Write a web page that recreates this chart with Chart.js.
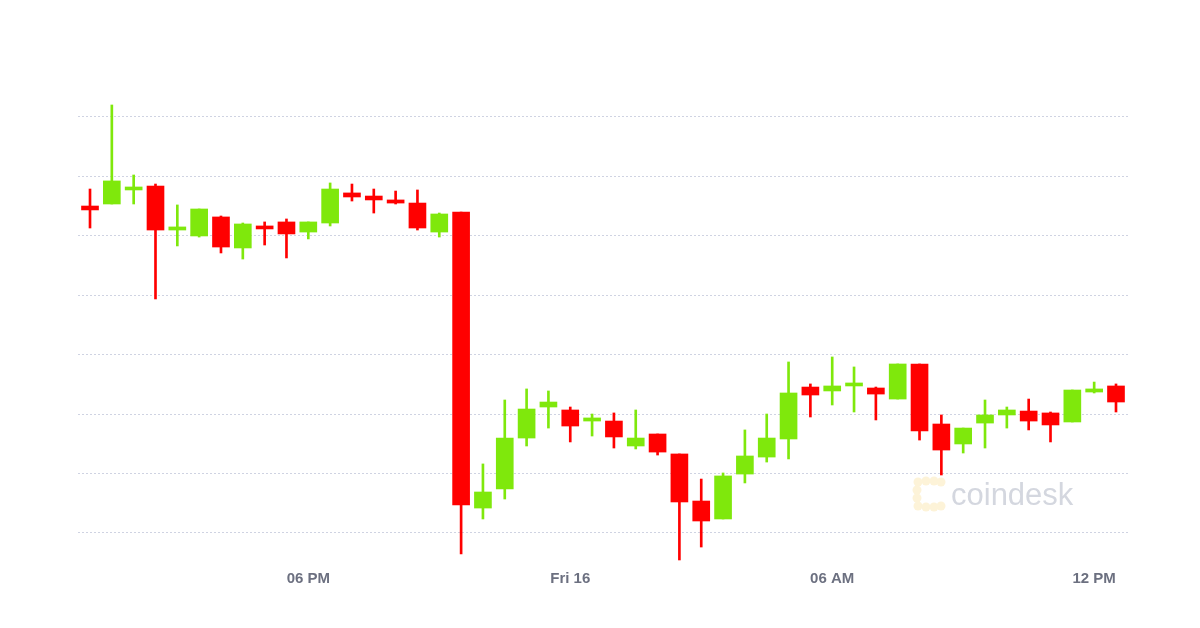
<!DOCTYPE html>
<html>
<head>
<meta charset="utf-8">
<script src="https://cdn.jsdelivr.net/npm/chart.js@4/dist/chart.umd.min.js"></script>
<style>
  html, body { margin: 0; padding: 0; background: #fff; }
  #wrap { width: 1200px; height: 628px; }
</style>
</head>
<body>
<div id="wrap"><canvas id="myChart" width="1200" height="628"></canvas></div>
<script>
// half-hour candles, time in hours from Thu 15 00:00
const hours = [13, 13.5, 14, 14.5, 15, 15.5, 16, 16.5, 17, 17.5, 18, 18.5,
  19, 19.5, 20, 20.5, 21, 21.5, 22, 22.5, 23, 23.5, 24, 24.5,
  25, 25.5, 26, 26.5, 27, 27.5, 28, 28.5, 29, 29.5, 30, 30.5,
  31, 31.5, 32, 32.5, 33, 33.5, 34, 34.5, 35, 35.5, 36, 36.5];

const open = [11475.1, 11476.8, 11488.6, 11491.9, 11454.9, 11449.9, 11465.9, 11439.8, 11458.3, 11461.7, 11453.2, 11460.8,
  11486.1, 11483.5, 11480.2, 11477.6, 11453.2, 11470.1, 11221.0, 11237.0, 11279.9, 11306.0, 11303.5, 11294.2,
  11294.2, 11273.2, 11283.3, 11266.5, 11226.9, 11211.8, 11249.6, 11263.9, 11279.1, 11322.8, 11319.5, 11323.7,
  11322.0, 11312.7, 11342.2, 11291.7, 11274.9, 11292.5, 11299.3, 11302.6, 11301.0, 11293.4, 11318.6, 11323.7];

const high = [11489.4, 11560.1, 11501.2, 11493.6, 11476.0, 11472.6, 11466.7, 11460.8, 11461.7, 11464.2, 11461.7, 11494.5,
  11493.6, 11489.4, 11487.7, 11488.6, 11469.2, 11470.1, 11258.1, 11311.9, 11321.2, 11319.5, 11306.0, 11300.1,
  11301.0, 11303.5, 11283.3, 11266.5, 11245.4, 11250.5, 11286.7, 11300.1, 11343.9, 11325.4, 11348.1, 11339.7,
  11322.8, 11342.2, 11342.2, 11299.3, 11288.3, 11311.9, 11306.0, 11312.7, 11301.8, 11320.3, 11327.0, 11325.4];

const low = [11456.6, 11476.8, 11476.8, 11396.9, 11441.5, 11449.0, 11435.6, 11430.5, 11442.3, 11431.4, 11447.4, 11458.3,
  11479.3, 11469.2, 11476.8, 11454.9, 11449.0, 11182.3, 11211.8, 11228.6, 11273.2, 11288.3, 11276.6, 11281.6,
  11271.5, 11270.7, 11265.6, 11177.3, 11188.2, 11211.8, 11242.1, 11259.7, 11262.3, 11297.6, 11307.7, 11301.8,
  11295.1, 11312.7, 11278.2, 11248.8, 11267.3, 11271.5, 11288.3, 11286.7, 11276.6, 11293.4, 11317.8, 11301.8];

const close = [11471.8, 11496.2, 11489.4, 11454.9, 11457.5, 11472.6, 11440.6, 11460.0, 11455.8, 11451.6, 11461.7, 11489.4,
  11482.7, 11480.2, 11477.6, 11456.6, 11468.4, 11223.6, 11234.5, 11279.9, 11304.3, 11310.2, 11290.0, 11296.8,
  11280.8, 11279.9, 11268.1, 11226.1, 11210.1, 11248.0, 11264.8, 11279.9, 11317.8, 11316.1, 11323.7, 11326.2,
  11316.9, 11342.2, 11285.8, 11269.8, 11288.3, 11299.3, 11303.5, 11294.2, 11290.9, 11320.3, 11321.2, 11310.2];

const tickHours = [18, 24, 30, 36];
const tickLabels = ['06 PM', 'Fri 16', '06 AM', '12 PM'];
const priceGrid = [11200, 11250, 11300, 11350, 11400, 11450, 11500, 11550];

const UP = '#7fe80c';
const DOWN = '#ff0000';
const colors = open.map((o, i) => (close[i] >= o ? UP : DOWN));

const watermark = {
  id: 'watermark',
  beforeDatasetsDraw(chart) {
    const c = chart.ctx;
    c.save();
    c.fillStyle = '#fdf3d8';
    const dots = [[918, 482], [926, 481], [934, 481], [941, 482], [917, 490], [917, 498],
      [918, 506], [926, 507], [934, 507], [941, 506]];
    dots.forEach(([x, y]) => { c.beginPath(); c.arc(x, y, 4.5, 0, Math.PI * 2); c.fill(); });
    c.fillStyle = '#d4d7df';
    c.font = '31px "Liberation Sans", Arial, sans-serif';
    c.textBaseline = 'alphabetic';
    c.fillText('coindesk', 951, 505);
    c.restore();
  }
};

const ctx = document.getElementById('myChart').getContext('2d');

new Chart(ctx, {
  type: 'bar',
  data: {
    datasets: [
      {
        label: 'wick',
        data: hours.map((h, i) => ({ x: h, y: [low[i], high[i]] })),
        backgroundColor: colors,
        barThickness: 2,
        grouped: false,
        order: 2
      },
      {
        label: 'body',
        data: hours.map((h, i) => ({ x: h, y: [open[i], close[i]] })),
        backgroundColor: colors,
        barThickness: 17,
        minBarLength: 3,
        grouped: false,
        order: 1
      }
    ]
  },
  options: {
    responsive: false,
    animation: false,
    layout: { padding: { left: 78, right: 72, top: 95, bottom: 40 } },
    plugins: {
      legend: { display: false },
      tooltip: { enabled: false }
    },
    scales: {
      x: {
        type: 'linear',
        min: 12.725,
        max: 36.775,
        offset: false,
        grid: { display: false },
        border: { display: false },
        afterBuildTicks: axis => { axis.ticks = tickHours.map(v => ({ value: v })); },
        ticks: {
          autoSkip: false,
          maxRotation: 0,
          padding: 0,
          color: '#6c7080',
          font: { family: '"Liberation Sans", Arial, sans-serif', size: 15, weight: 'bold' },
          callback: v => tickLabels[tickHours.indexOf(v)]
        }
      },
      y: {
        min: 11175.6,
        max: 11568.5,
        afterBuildTicks: axis => { axis.ticks = priceGrid.map(v => ({ value: v })); },
        ticks: { display: false },
        grid: { color: '#cfd3e2', lineWidth: 1, drawTicks: false },
        border: { display: false, dash: [2, 2] }
      }
    }
  },
  plugins: [watermark]
});
</script>
</body>
</html>
